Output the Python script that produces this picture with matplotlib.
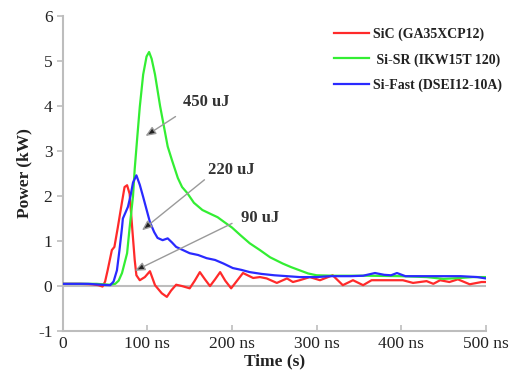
import matplotlib
matplotlib.use('Agg')
import matplotlib.pyplot as plt
from matplotlib.ticker import FuncFormatter

# データ (時間 ns, 電力 kW)
sic_t = [0, 20, 35, 42, 47, 50, 53, 58, 61, 65, 70, 73, 76, 79, 82, 85, 87, 91, 97, 103,
         109, 117, 123, 128, 134, 141, 150, 156, 162, 168, 174, 180, 186, 192, 199, 206, 213,
         225, 233, 241, 253, 265, 272, 280, 292, 304, 319, 331, 343, 355, 365, 402, 414,
         430, 438, 446, 457, 467, 481, 495, 500]
sic_p = [0.05, 0.05, 0.04, 0.02, -0.01, 0.1, 0.35, 0.8, 0.87, 1.3, 1.87, 2.2, 2.24, 2.05, 1.3,
         0.58, 0.24, 0.13, 0.2, 0.33, 0.02, -0.16, -0.24, -0.1, 0.03, 0.0, -0.05, 0.12, 0.31,
         0.15, 0.0, 0.15, 0.31, 0.12, -0.05, 0.12, 0.29, 0.18, 0.2, 0.17, 0.07, 0.17, 0.09,
         0.13, 0.2, 0.13, 0.24, 0.02, 0.13, 0.02, 0.13, 0.13, 0.07, 0.11, 0.05, 0.13, 0.09,
         0.15, 0.04, 0.09, 0.09]

sisr_t = [0, 40, 55, 62, 66, 70, 76, 79, 83, 85, 88, 91, 95, 99, 102, 105, 109, 115, 120, 124,
          129, 136, 141, 147, 155, 165, 175, 183, 191, 200, 210, 221, 233, 245, 260, 270, 280,
          290, 300, 320, 360, 400, 430, 450, 470, 485, 500]
sisr_p = [0.05, 0.05, 0.03, 0.05, 0.12, 0.29, 0.73, 1.3, 2.0, 2.6, 3.3, 3.98, 4.7, 5.1, 5.2,
          5.05, 4.7, 4.0, 3.5, 3.1, 2.8, 2.4, 2.2, 2.07, 1.85, 1.69, 1.6, 1.53, 1.42, 1.3, 1.13,
          0.95, 0.8, 0.64, 0.5, 0.42, 0.35, 0.28, 0.24, 0.23, 0.23, 0.22, 0.2, 0.16, 0.18, 0.2, 0.2]

sifast_t = [0, 30, 45, 56, 60, 64, 67, 70, 71, 77, 80, 83, 87, 91, 95, 99, 103, 108, 112, 118,
            124, 129, 134, 142, 150, 160, 170, 180, 190, 201, 211, 221, 235, 250, 265, 280, 300,
            316, 340, 355, 369, 380, 388, 395, 405, 430, 450, 470, 490, 500]
sifast_p = [0.05, 0.05, 0.03, 0.02, 0.1, 0.35, 0.8, 1.3, 1.5, 1.76, 2.0, 2.3, 2.46, 2.25, 1.98,
            1.7, 1.42, 1.2, 1.07, 1.02, 1.06, 0.97, 0.87, 0.8, 0.73, 0.69, 0.62, 0.58, 0.5, 0.4,
            0.36, 0.31, 0.27, 0.24, 0.22, 0.2, 0.2, 0.22, 0.22, 0.23, 0.29, 0.25, 0.24, 0.29,
            0.22, 0.22, 0.22, 0.22, 0.2, 0.17]

labels = ['SiC (GA35XCP12)', ' Si-SR (IKW15T 120)', 'Si-Fast (DSEI12-10A)']
colors = ['#ff2a2a', '#33ee33', '#2a2aff']

# 注釈 (テキスト位置, 矢印の根元, 矢印の先)
notes = ['450 uJ', '220 uJ', '90 uJ']
note_xy = [(170, 4.09), (199, 2.58), (233, 1.51)]
arrow_tail = [(136, 3.8), (170, 2.4), (203, 1.42)]
arrow_head = [(95, 3.3), (91, 1.2), (82, 0.31)]

plt.rcParams['font.family'] = ['Liberation Serif', 'DejaVu Serif']
plt.rcParams['axes.unicode_minus'] = False

fig = plt.figure(figsize=(5.19, 3.81), dpi=100)
ax = fig.add_axes([0.121, 0.131, 0.815, 0.827])

axis_gray = '#bdbdbd'
ax.axhline(0, color=axis_gray, lw=1.5, zorder=1)

for t, p, lab, c in zip([sic_t, sisr_t, sifast_t], [sic_p, sisr_p, sifast_p], labels, colors):
    ax.plot(t, p, color=c, lw=1.6, label=lab, zorder=3)

for txt, xy, tail, head in zip(notes, note_xy, arrow_tail, arrow_head):
    ax.text(xy[0], xy[1], txt, ha='center', va='center', fontsize=12,
            fontweight='bold', color='#333333')
    ax.annotate('', xy=head, xytext=tail,
                arrowprops=dict(arrowstyle='-|>,head_length=0.6,head_width=0.25',
                                ec='#9a9a9a', fc='#222222', lw=1.0), zorder=4)

ax.set_xlim(0, 500)
ax.set_ylim(-1, 6)
ax.set_xticks([0, 100, 200, 300, 400, 500])
ax.set_yticks(range(-1, 7))
ax.xaxis.set_major_formatter(FuncFormatter(lambda v, pos: '0' if v == 0 else f'{int(v)} ns'))

for s in ['top', 'right']:
    ax.spines[s].set_visible(False)
for s in ['left', 'bottom']:
    ax.spines[s].set_color(axis_gray)
    ax.spines[s].set_linewidth(1.5)
ax.tick_params(axis='x', direction='in', length=4, color=axis_gray, width=1.2,
               labelsize=12.5, labelcolor='#222222')
ax.tick_params(axis='y', direction='out', length=4, color=axis_gray, width=1.2,
               labelsize=12.5, labelcolor='#222222')

ax.set_xlabel('Time (s)', fontsize=12.5, fontweight='bold', color='#222222', labelpad=1)
ax.set_ylabel('Power (kW)', fontsize=12.5, fontweight='bold', color='#222222', labelpad=4)

leg = fig.legend(loc='upper left', bbox_to_anchor=(0.62, 0.96), frameon=False,
                 fontsize=10, handlelength=2.5, labelspacing=0.85, handletextpad=0.3)
for t in leg.get_texts():
    t.set_fontweight('bold')
    t.set_color('#222222')

fig.savefig('out.png', dpi=100)
